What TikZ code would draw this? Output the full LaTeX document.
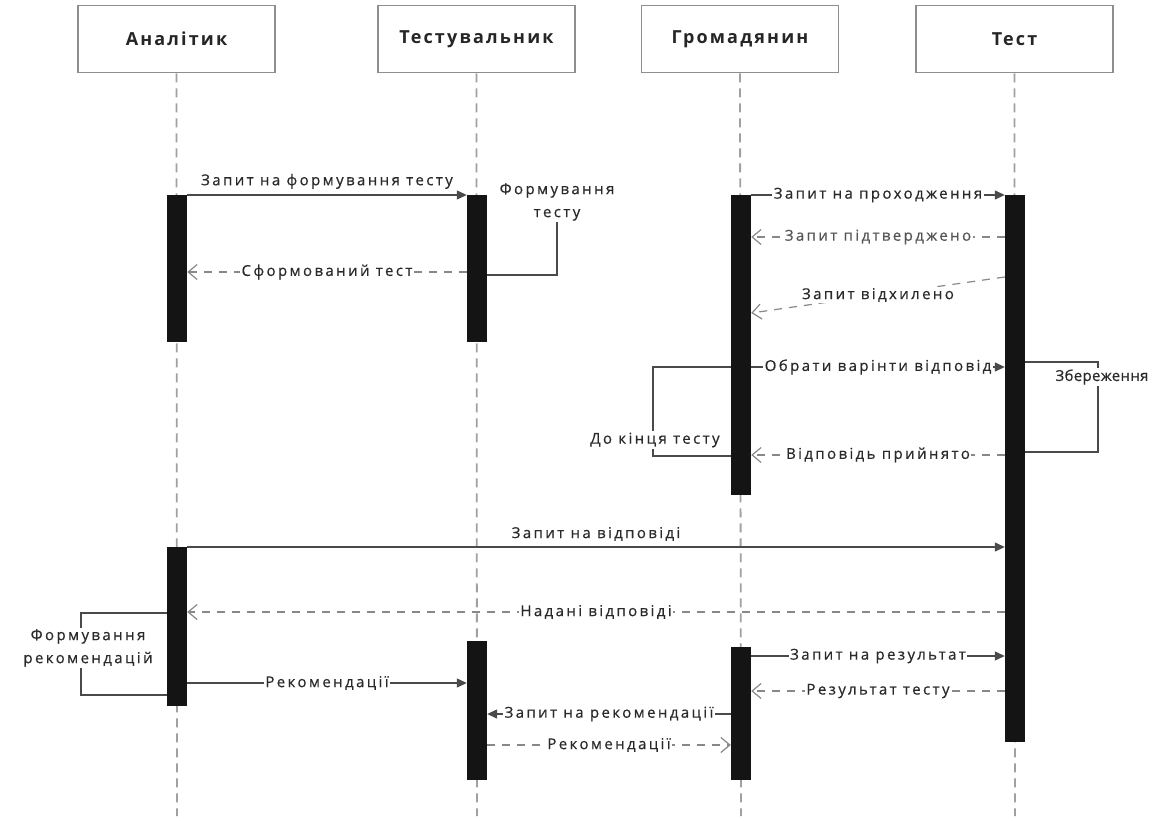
\documentclass[tikz,border=0pt]{standalone}
\usepackage{fontspec}
\setmainfont{Open Sans}
\newfontfamily\lblfont{Open Sans}[LetterSpace=16,FakeBold=0.5]
\newfontfamily\tightfont{Open Sans}[LetterSpace=2,FakeBold=0.5]
\newfontfamily\headfont{Open Sans}[LetterSpace=12]
\usetikzlibrary{arrows.meta,calc}

\definecolor{txt}{HTML}{2A2A2A}
\definecolor{frame}{HTML}{8E8E8E}
\definecolor{lifec}{HTML}{A0A0A0}
\definecolor{callc}{HTML}{4A4A4A}
\definecolor{retc}{HTML}{888888}

\begin{document}
\begin{tikzpicture}[x=1pt,y=-1pt,
  head/.style={draw=frame, line width=1.6pt, fill=white, minimum width=197pt,
    minimum height=67pt, inner sep=0pt, text=black!85,
    font=\headfont\bfseries\fontsize{18}{21}\selectfont},
  life/.style={draw=lifec, line width=1.8pt, dash pattern=on 9pt off 6pt},
  bar/.style={fill=black!92, draw=none, minimum width=20pt, inner sep=0pt, anchor=north},
  lbl/.style={fill=white, inner sep=1.5pt, text=txt,
    font=\lblfont\fontsize{15}{23}\selectfont},
  call/.style={draw=callc, line width=1.3pt, -{Triangle[length=10pt,width=9pt]}},
  ret/.style={draw=retc, line width=1.2pt, dash pattern=on 8pt off 7pt,
    -{Straight Barb[length=9pt,width=15pt,line width=1.2pt]}},
  loopline/.style={draw=callc, line width=1.2pt}]

\useasboundingbox[fill=white] (0,0) rectangle (1154,821);

% participants
\node[head] (hA) at (176.5,39) {Аналітик};
\node[head] (hT) at (476.5,39) {Тестувальник};
\node[head] (hG) at (740,39) {Громадянин};
\node[head] (hS) at (1014.5,39) {Тест};

% lifeline ends
\coordinate (eA) at (177,816);
\coordinate (eT) at (477,816);
\coordinate (eG) at (741,816);
\coordinate (eS) at (1015,816);

\draw[life] (hA.south) -- (eA);
\draw[life] (hT.south) -- (eT);
\draw[life] (hG.south) -- (eG);
\draw[life] (hS.south) -- (eS);

% activation bars
\node[bar, minimum height=147pt] (a1) at (177,195) {};
\node[bar, minimum height=159pt] (a2) at (177,547) {};
\node[bar, minimum height=147pt] (t1) at (477,195) {};
\node[bar, minimum height=139pt] (t2) at (477,641) {};
\node[bar, minimum height=300pt] (c1) at (741,195) {};
\node[bar, minimum height=133pt] (c2) at (741,647) {};
\node[bar, minimum height=547pt] (s1) at (1015,195) {};

% test preparation
\draw[call] (a1.north east) -- (t1.north west)
  node[midway, lbl, above=4pt] {Запит на формування тесту};
\node[lbl, align=center] (fT) at (557,202) {Формування\\тесту};
\draw[loopline] (fT.south) |- ($(t1.north east)+(0,80)$);
\draw[ret] ($(t1.north west)+(0,77)$) -- ($(a1.north east)+(0,77)$)
  node[midway, lbl] {Сформований тест};

% passing the test
\draw[call] (c1.north east) -- (s1.north west)
  node[midway, lbl] {Запит на проходження};
\draw[ret] ($(s1.north west)+(0,42)$) -- ($(c1.north east)+(0,42)$)
  node[midway, lbl, text=txt!80] {Запит підтверджено};
\draw[ret] ($(s1.north west)+(0,82)$) -- ($(c1.north east)+(0,118)$)
  node[midway, lbl] {Запит відхилено};
\draw[call] ($(c1.north east)+(0,172)$) -- ($(s1.north west)+(0,172)$)
  node[midway, lbl] {Обрати варінти відповід};
\node[lbl] (dk) at (655,440) {До кінця тесту};
\draw[loopline] ($(c1.north west)+(0,172)$) -| ($(dk.north)+(-2,0)$);
\draw[loopline] ($(dk.south)+(-2,0)$) |- ($(c1.north west)+(0,261)$);
\draw[ret] ($(s1.north west)+(0,260)$) -- ($(c1.north east)+(0,260)$)
  node[midway, lbl] {Відповідь прийнято};
\node[lbl, font=\tightfont\fontsize{15}{23}\selectfont] (zb) at (1102,377) {Збереження};
\draw[loopline] ($(s1.north east)+(0,167)$) -| ($(zb.north)+(-4,0)$);
\draw[loopline] ($(zb.south)+(-4,0)$) |- ($(s1.north east)+(0,257)$);

% answers and recommendations
\draw[call] (a2.north east) -- ($(s1.north west)+(0,352)$)
  node[midway, lbl, above=4pt] {Запит на відповіді};
\draw[ret] ($(s1.north west)+(0,417)$) -- ($(a2.north east)+(0,65)$)
  node[midway, lbl] {Надані відповіді};
\node[lbl, align=center] (fr) at (88,648) {Формування\\рекомендацій};
\draw[loopline] ($(a2.north west)+(0,66)$) -| ($(fr.north)+(-7,0)$);
\draw[loopline] ($(fr.south)+(-7,0)$) |- ($(a2.north west)+(0,148)$);
\draw[call] ($(a2.north east)+(0,136)$) -- ($(t2.north west)+(0,42)$)
  node[midway, lbl] {Рекомендації};
\draw[call] ($(c2.north east)+(0,9)$) -- ($(s1.north west)+(0,461)$)
  node[midway, lbl] {Запит на результат};
\draw[ret] ($(s1.north west)+(0,496)$) -- ($(c2.north east)+(0,44)$)
  node[midway, lbl] {Результат тесту};
\draw[call] ($(c2.north west)+(0,67)$) -- ($(t2.north east)+(0,73)$)
  node[midway, lbl] {Запит на рекомендації};
\draw[ret] ($(t2.north east)+(0,104)$) -- ($(c2.north west)+(0,98)$)
  node[midway, lbl] {Рекомендації};

\end{tikzpicture}
\end{document}
